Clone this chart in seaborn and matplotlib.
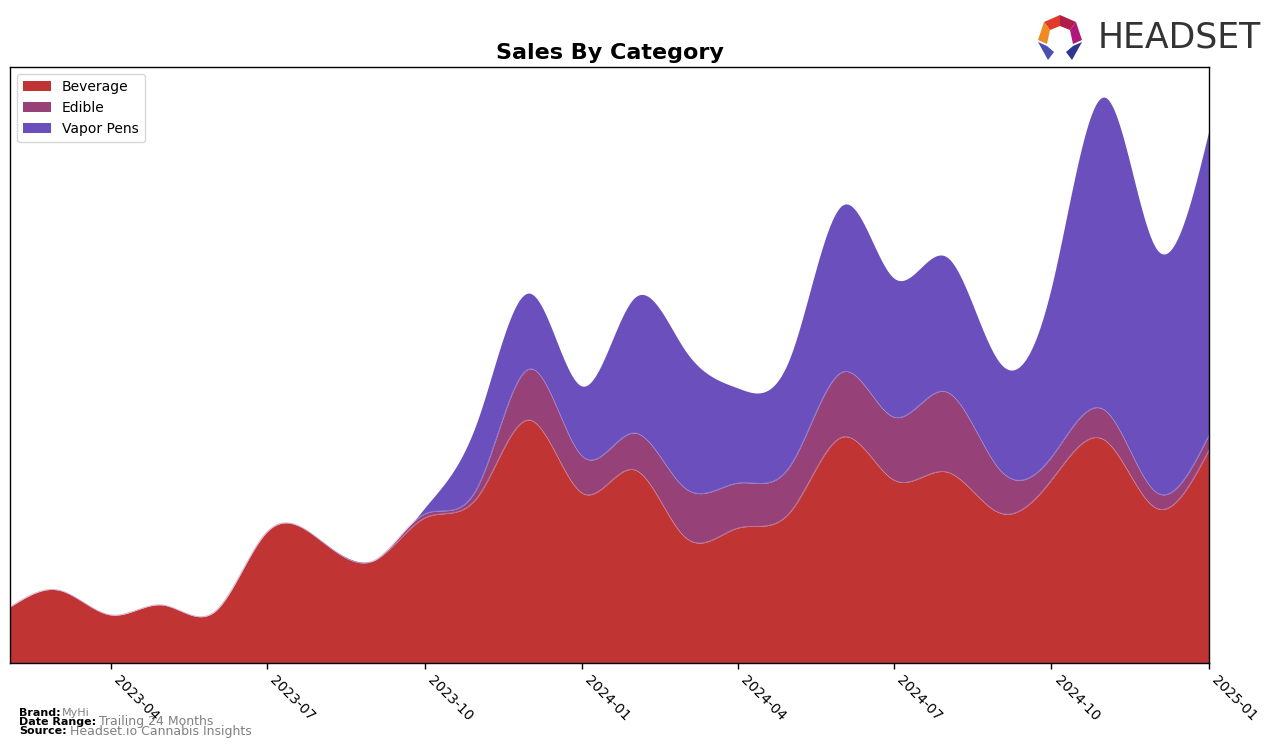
import numpy as np
import pandas as pd
import matplotlib
matplotlib.use("Agg")
import matplotlib.pyplot as plt
import matplotlib.dates as mdates
from matplotlib.patches import Polygon
import seaborn as sns

# ---- data (monthly, Feb 2023 .. Jan 2025) ----
months = pd.date_range("2023-02-01", "2025-01-01", freq="MS")
categories = ["Beverage", "Edible", "Vapor Pens"]
beverage = [56, 73, 48, 58, 52, 131, 123, 102, 145, 166, 243, 170,
            193, 126, 135, 150, 226, 183, 191, 150, 183, 223, 155, 213]
edible = [0, 0, 0, 0, 0, 0, 0, 0, 4, 10, 51, 37,
          37, 49, 45, 46, 65, 63, 80, 43, 23, 30, 16, 15]
vapor = [0, 0, 0, 0, 0, 0, 0, 0, 6, 67, 76, 70,
         136, 138, 95, 108, 167, 139, 135, 107, 170, 313, 244, 305]
colors = ["#c03434", "#964178", "#6a4fbd"]
tick_labels = ["2023-04", "2023-07", "2023-10", "2024-01",
               "2024-04", "2024-07", "2024-10", "2025-01"]


def natural_spline(x, y, xs):
    x = np.asarray(x, float); y = np.asarray(y, float)
    n = len(x)
    h = np.diff(x)
    A = np.zeros((n, n)); b = np.zeros(n)
    A[0, 0] = 1; A[-1, -1] = 1
    for i in range(1, n - 1):
        A[i, i - 1] = h[i - 1]
        A[i, i] = 2 * (h[i - 1] + h[i])
        A[i, i + 1] = h[i]
        b[i] = 6 * ((y[i + 1] - y[i]) / h[i] - (y[i] - y[i - 1]) / h[i - 1])
    M = np.linalg.solve(A, b)
    idx = np.clip(np.searchsorted(x, xs) - 1, 0, n - 2)
    x0, x1 = x[idx], x[idx + 1]
    hh = x1 - x0
    t0 = x1 - xs; t1 = xs - x0
    return (M[idx] * t0 ** 3 / (6 * hh) + M[idx + 1] * t1 ** 3 / (6 * hh)
            + (y[idx] / hh - M[idx] * hh / 6) * t0
            + (y[idx + 1] / hh - M[idx + 1] * hh / 6) * t1)


xnum = mdates.date2num(months.to_pydatetime())
xs = np.linspace(xnum[0], xnum[-1], 900)
smooth = [np.clip(natural_spline(xnum, s, xs), 0, None) for s in (beverage, edible, vapor)]

sns.set_theme(style="white")
plt.rcParams["font.family"] = ["DejaVu Sans"]
plt.rcParams["text.color"] = "black"
plt.rcParams["xtick.color"] = "black"
plt.rcParams["axes.labelcolor"] = "black"

fig = plt.figure(figsize=(12.76, 7.48), dpi=100)
ax = fig.add_axes([10 / 1276, (748 - 663) / 748, 1199 / 1276, 596 / 748])

ax.stackplot(xs, *smooth, colors=colors, labels=categories, linewidth=0)
cum = np.cumsum(np.vstack(smooth), axis=0)
df_lines = pd.DataFrame({"x": np.tile(xs, 2), "y": cum[:2].ravel(),
                         "k": np.repeat(categories[:2], len(xs))})
sns.lineplot(data=df_lines, x="x", y="y", hue="k", ax=ax, legend=False,
             palette=["#e0a0b0", "#b8a0e0"], linewidth=0.6, alpha=0.55)

ax.set_xlim(xnum[0], xnum[-1])
ax.set_ylim(0, cum[-1].max() * 1.053)
ax.set_yticks([])
ax.set_xlabel(""); ax.set_ylabel("")
tick_dates = mdates.date2num(pd.to_datetime([t + "-01" for t in tick_labels]).to_pydatetime())
ax.set_xticks(tick_dates)
ax.set_xticklabels(tick_labels, rotation=-45, ha="left", fontsize=10, color="black")
ax.tick_params(axis="x", length=4, width=1, color="black", bottom=True, pad=3)
for sp in ax.spines.values():
    sp.set_visible(True); sp.set_color("black"); sp.set_linewidth(1)

ax.set_title("Sales By Category", fontsize=16, fontweight="bold", pad=6, color="black")
leg = ax.legend(loc="upper left", fontsize=10, frameon=True, borderpad=0.45,
                handlelength=2.0, labelspacing=0.5)
leg.get_frame().set_edgecolor("#cccccc")
for t in leg.get_texts():
    t.set_color("black")

# footer text
fig.text(19 / 1276, 1 - 713 / 748, "Brand:", fontsize=8, fontweight="bold", va="center")
fig.text(62 / 1276, 1 - 713 / 748, "MyHi", fontsize=8, color="gray", va="center")
fig.text(19 / 1276, 1 - 722 / 748, "Date Range:", fontsize=8, fontweight="bold", va="center")
fig.text(99 / 1276, 1 - 722 / 748, "Trailing 24 Months", fontsize=9, color="gray", va="center")
fig.text(19 / 1276, 1 - 731 / 748, "Source:", fontsize=8, fontweight="bold", va="center")
fig.text(70 / 1276, 1 - 731 / 748, "Headset.io Cannabis Insights", fontsize=9, color="gray", va="center")

# logo
def P(pts):
    return [(px / 1276, 1 - py / 748) for px, py in pts]

logo = [
    ([(1044, 22), (1060, 15), (1060, 26), (1050, 30)], "#e03a2c"),
    ([(1060, 15), (1076, 22), (1070, 30), (1060, 26)], "#b01e4a"),
    ([(1076, 22), (1082, 40), (1073, 44), (1070, 30)], "#b0177a"),
    ([(1044, 22), (1050, 30), (1047, 44), (1038, 40)], "#f08a24"),
    ([(1038, 42), (1047, 46), (1054, 52), (1048, 60)], "#4a4fb0"),
    ([(1082, 42), (1073, 46), (1066, 52), (1072, 60)], "#2e3590"),
]
for pts, c in logo:
    fig.patches.append(Polygon(P(pts), closed=True, transform=fig.transFigure,
                               facecolor=c, edgecolor="none"))
fig.text(1261 / 1276, 1 - 38 / 748, "HEADSET", fontsize=25, color="#333333",
         va="center", ha="right")

fig.savefig("out.png", dpi=100)
